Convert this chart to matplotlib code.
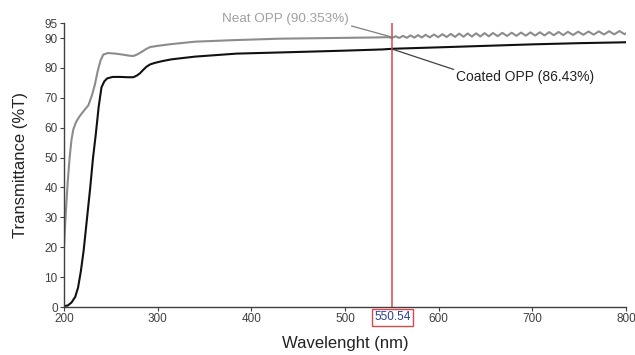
import numpy as np
import matplotlib.pyplot as plt

plt.rcParams['font.family'] = ['Liberation Sans', 'DejaVu Sans']

# ---------------------------------------------------
# Dados
# ---------------------------------------------------
# Neat OPP (cinza)
wl_neat = [200, 202, 204, 206, 208, 210, 213, 217, 222, 226, 230, 233, 236, 239,
           242, 247, 255, 262, 270, 274, 278, 283, 288, 292, 300, 315, 340, 380,
           430, 480, 530, 546,
           550, 554, 558, 562, 566, 570, 574, 578, 582, 586, 590.5, 595, 599.5,
           604, 608.5, 613, 617.5, 622, 626.5, 631, 635.5, 640, 644.5, 649,
           653.5, 658, 663, 668, 673, 678, 683, 688, 693, 698, 703, 708, 713,
           718, 723, 728, 733, 738, 743.5, 749, 754.5, 760, 765.5, 771, 776.5,
           782, 787.5, 793, 798.5, 800]
t_neat = [20, 32, 42, 50, 56, 59.5, 62, 64, 66, 67.5, 71, 74.5, 79, 82.5,
          84.5, 85, 84.8, 84.5, 84.1, 84.0, 84.5, 85.4, 86.4, 87, 87.4, 88, 88.8, 89.3,
          89.8, 90.0, 90.2, 90.3,
          90.05, 90.6, 90.05, 90.75, 90.1, 90.9, 90.15, 91.0, 90.2, 91.1, 90.25, 91.2, 90.3,
          91.3, 90.35, 91.4, 90.4, 91.5, 90.45, 91.55, 90.5, 91.6, 90.55, 91.65,
          90.6, 91.7, 90.65, 91.75, 90.7, 91.8, 90.75, 91.85, 90.8, 91.9, 90.85, 91.95, 90.9,
          92.0, 90.95, 92.05, 91.0, 92.1, 91.05, 92.15, 91.1, 92.2, 91.15, 92.25, 91.2,
          92.3, 91.25, 92.35, 91.3, 91.6]

# Coated OPP (preto)
wl_coat = [200, 204, 208, 212, 215, 218, 221, 224, 228, 231, 234, 237, 240, 243,
           246, 252, 260, 268, 274, 278, 281, 285, 288, 292, 297, 305, 315, 340,
           384, 420, 455, 500, 540, 551, 600, 650, 700, 750, 800]
t_coat = [0.3, 0.5, 1.5, 3.4, 6.5, 12, 19, 28, 40, 50, 58, 67, 73.5, 75.5,
          76.5, 77, 77, 76.9, 76.9, 77.5, 78.2, 79.5, 80.4, 81.2, 81.7, 82.3, 82.9, 83.8,
          84.8, 85.1, 85.4, 85.8, 86.2, 86.43, 86.9, 87.4, 87.9, 88.3, 88.6]

cursor_wl = 550.54
neat_label = 'Neat OPP (90.353%)'
coat_label = 'Coated OPP (86.43%)'
xticks = [200, 300, 400, 500, 600, 700, 800]
yticks = [0, 10, 20, 30, 40, 50, 60, 70, 80, 90, 95]

# ---------------------------------------------------
# Figura
# ---------------------------------------------------
fig = plt.figure(figsize=(6.35, 3.55), dpi=100)
ax = fig.add_axes([0.1008, 0.1352, 0.885, 0.7996])

ax.plot(wl_neat, t_neat, color='#8c8c8c', linewidth=1.5)
ax.plot(wl_coat, t_coat, color='#111111', linewidth=1.5)
ax.axvline(cursor_wl, ymax=1.0, color='#d9484a', linewidth=1.1)

ax.set_xlim(200, 800)
ax.set_ylim(0, 95)
ax.set_xticks(xticks)
ax.set_yticks(yticks)

for s in ['top', 'right']:
    ax.spines[s].set_visible(False)
for s in ['left', 'bottom']:
    ax.spines[s].set_color('#404040')
    ax.spines[s].set_linewidth(1.0)
ax.tick_params(direction='out', length=3, width=0.8, colors='#404040',
               labelsize=8.5, pad=1.5)

ax.set_xlabel('Wavelenght (nm)', fontsize=12, color='#222222', labelpad=8)
ax.set_ylabel('Transmittance (%T)', fontsize=12, color='#222222', labelpad=12)

# valor do cursor
ax.text(cursor_wl, -3.4, '%.2f' % cursor_wl, ha='center', va='center',
        fontsize=8.5, color='#2a3f9a', clip_on=False,
        bbox=dict(boxstyle='square,pad=0.2', fc='white', ec='#d9484a', lw=1))

# anotações
ax.annotate(neat_label, xy=(cursor_wl, 90.3), xytext=(504, 94.3),
            ha='right', va='bottom', fontsize=9.7, color='#a0a0a0',
            annotation_clip=False,
            arrowprops=dict(arrowstyle='-', color='#808080', lw=0.9,
                            shrinkA=0, shrinkB=0, relpos=(1, 0)))
ax.annotate(coat_label, xy=(cursor_wl, 86.3), xytext=(619, 79.2),
            ha='left', va='top', fontsize=10, color='#222222',
            annotation_clip=False,
            arrowprops=dict(arrowstyle='-', color='#404040', lw=0.9,
                            shrinkA=0, shrinkB=0, relpos=(0, 1)))

fig.savefig('out.png', dpi=100)
